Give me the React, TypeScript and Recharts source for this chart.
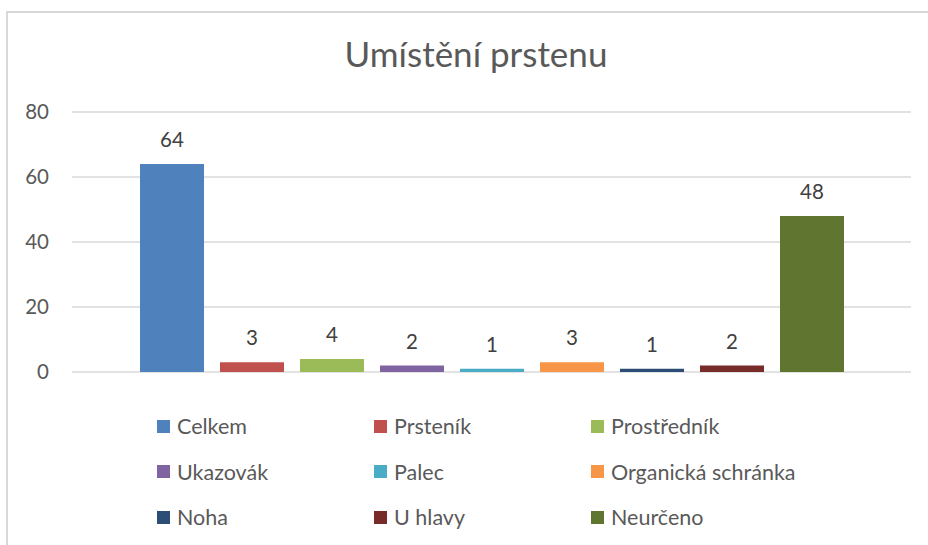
import { BarChart, Bar, YAxis, XAxis, CartesianGrid, LabelList } from 'recharts';

const seriesNames = [
  'Celkem',
  'Prsteník',
  'Prostředník',
  'Ukazovák',
  'Palec',
  'Organická schránka',
  'Noha',
  'U hlavy',
  'Neurčeno',
];
const seriesValues = [64, 3, 4, 2, 1, 3, 1, 2, 48];
const seriesColors = [
  '#4F81BD',
  '#C0504D',
  '#9BBB59',
  '#8064A2',
  '#4BACC6',
  '#F79646',
  '#2C4D75',
  '#772C2A',
  '#5F7530',
];
const yTicks = [0, 20, 40, 60, 80];

const FONT = 'Lato, "Open Sans", sans-serif';

const row: Record<string, string | number> = { name: 'Umístění prstenu' };
seriesNames.forEach((n, i) => {
  row[n] = seriesValues[i];
});
const data = [row];

export default function App() {
  return (
    <div
      style={{
        position: 'absolute',
        left: 0,
        top: 0,
        width: 928,
        height: 545,
        background: '#fff',
        overflow: 'hidden',
        fontFamily: FONT,
      }}
    >
      <div
        style={{
          position: 'absolute',
          left: 6,
          top: 11,
          width: 960,
          height: 600,
          border: '2px solid #D9D9D9',
        }}
      />
      <div
        style={{
          position: 'absolute',
          left: 0,
          top: 33,
          width: 952,
          textAlign: 'center',
          fontSize: 35,
          color: '#595959',
          lineHeight: '40px',
        }}
      >
        Umístění prstenu
      </div>
      <div style={{ position: 'absolute', left: 0, top: 0 }}>
        <BarChart
          width={928}
          height={400}
          data={data}
          margin={{ top: 112, right: 17, left: 22, bottom: 28 }}
          barCategoryGap={68}
          barGap={16}
        >
          <CartesianGrid vertical={false} stroke="#D9D9D9" strokeWidth={1.5} />
          <XAxis dataKey="name" hide />
          <YAxis
            domain={[0, 80]}
            ticks={yTicks}
            width={50}
            axisLine={false}
            tickLine={false}
            tickSize={0}
            tickMargin={23}
            tick={{ fill: '#595959', fontSize: 20.5, fontFamily: FONT }}
          />
          {seriesNames.map((n, i) => (
            <Bar key={n} dataKey={n} fill={seriesColors[i]} isAnimationActive={false}>
              <LabelList
                dataKey={n}
                position="top"
                offset={17}
                fill="#404040"
                fontSize={20.5}
                fontFamily={FONT}
              />
            </Bar>
          ))}
        </BarChart>
      </div>
      {seriesNames.map((n, i) => {
        const col = i % 3;
        const r = Math.floor(i / 3);
        return (
          <div
            key={n}
            style={{
              position: 'absolute',
              left: 157 + col * 217,
              top: 426 + r * 45.5 - 13,
              height: 26,
              display: 'flex',
              alignItems: 'center',
              whiteSpace: 'nowrap',
              fontSize: 21.5,
              color: '#595959',
            }}
          >
            <span
              style={{
                display: 'inline-block',
                width: 13,
                height: 13,
                background: seriesColors[i],
                marginRight: 7,
              }}
            />
            {n}
          </div>
        );
      })}
    </div>
  );
}
